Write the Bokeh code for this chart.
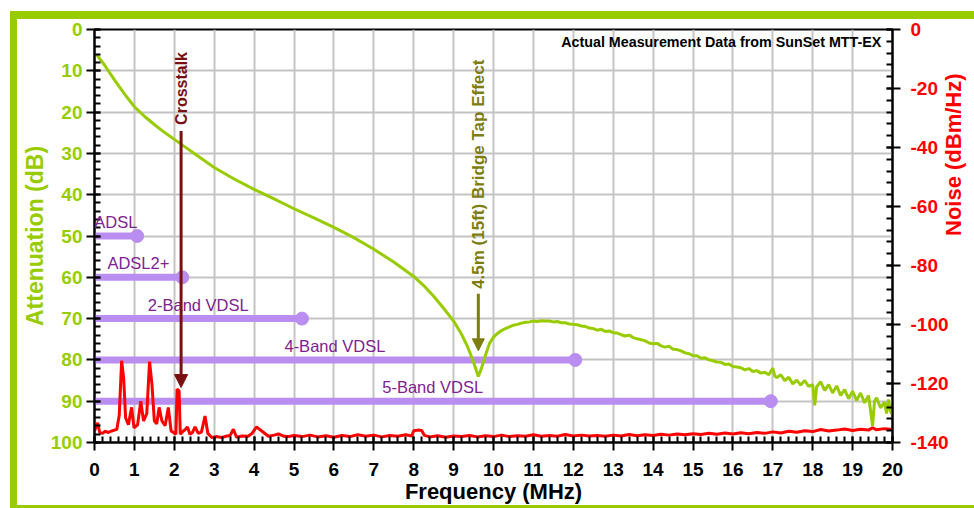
import math
from bokeh.plotting import figure
from bokeh.models import (Range1d, LinearAxis, SingleIntervalTicker, Label, Arrow,
                          NormalHead, PrintfTickFormatter)
from bokeh.embed import file_html
from bokeh.resources import INLINE

# ---------------- data ----------------
freq_att = [0.05, 0.25, 0.5, 0.75, 1.0, 1.25, 1.5, 1.75, 2.0, 2.25, 2.5, 2.75, 3.0, 3.5, 4.0,
            4.5, 5.0, 5.5, 6.0, 6.5, 7.0, 7.5, 8.0, 8.25, 8.5, 8.75, 9.0, 9.2, 9.35, 9.5,
            9.62, 9.7, 9.8, 9.9, 10.0, 10.1, 10.2, 10.3, 10.4, 10.5, 10.6, 10.7, 10.8, 10.9,
            11.0, 11.1, 11.2, 11.3, 11.4, 11.5, 11.6, 11.7, 11.8, 11.9, 12.0, 12.1, 12.2,
            12.3, 12.4, 12.5, 12.6, 12.7, 12.8, 12.9, 13.0, 13.1, 13.2, 13.3, 13.4, 13.5,
            13.6, 13.7, 13.8, 13.9, 14.0, 14.1, 14.2, 14.3, 14.4, 14.5, 14.6, 14.7, 14.8,
            14.9, 15.0, 15.1, 15.2, 15.3, 15.4, 15.5, 15.6, 15.7, 15.8, 15.9, 16.0, 16.1,
            16.2, 16.3, 16.4, 16.5, 16.6, 16.7, 16.8, 16.9, 17.0, 17.05, 17.1, 17.2, 17.3,
            17.4, 17.5, 17.6, 17.7, 17.8, 17.9, 18.0, 18.05, 18.1, 18.2, 18.3, 18.4, 18.5,
            18.6, 18.7, 18.8, 18.9, 19.0, 19.1, 19.2, 19.3, 19.4, 19.5, 19.55, 19.6, 19.7,
            19.8, 19.85, 19.9, 19.95, 20.0]
att_db = [6.0, 8.6, 12.2, 15.6, 18.7, 21.0, 23.0, 24.9, 26.6, 28.3, 30.0, 31.7, 33.4, 36.2, 38.7,
          41.0, 43.4, 45.6, 47.9, 50.4, 53.2, 56.3, 59.8, 62.0, 64.6, 67.5, 70.6, 73.8, 76.8, 80.5,
          84.0, 82.0, 78.8, 76.0, 74.5, 73.6, 72.9, 72.4, 72.0, 71.6, 71.4, 71.1, 70.9, 70.8,
          70.6, 70.7, 70.5, 70.6, 70.6, 70.8, 70.7, 71.0, 71.0, 71.3, 71.4, 71.5, 71.8,
          71.9, 72.3, 72.4, 72.8, 72.6, 73.1, 73.0, 73.4, 73.5, 73.9, 74.2, 74.0, 74.6,
          74.9, 75.1, 75.4, 75.9, 76.1, 76.0, 76.6, 76.9, 76.7, 77.4, 77.5, 77.8, 78.3,
          78.5, 79.0, 79.0, 79.6, 79.5, 80.0, 80.2, 80.5, 80.6, 81.1, 81.0, 81.6, 81.7,
          81.9, 82.4, 82.1, 82.8, 82.6, 83.2, 83.0, 83.6, 82.0, 83.9, 84.3, 83.6, 85.0,
          84.2, 85.8, 84.9, 86.1, 85.0, 86.4, 86.0, 91.0, 86.5, 85.3, 87.4, 86.0, 88.0,
          86.3, 88.6, 87.2, 89.4, 87.6, 89.8, 88.0, 90.4, 88.6, 96.0, 90.0, 89.2, 91.6,
          90.2, 93.0, 89.6, 92.5, 93.2]

freq_noise = [0.0, 0.08, 0.13, 0.2, 0.27, 0.35, 0.43, 0.5, 0.56, 0.62, 0.68, 0.73, 0.78, 0.85,
              0.93, 0.99, 1.08, 1.16, 1.23, 1.31, 1.38, 1.44, 1.5, 1.56, 1.62, 1.69, 1.77, 1.85,
              1.92, 1.98, 2.04, 2.07, 2.12, 2.15, 2.22, 2.27, 2.33, 2.39, 2.46, 2.52, 2.6, 2.68,
              2.77, 2.84, 2.94, 3.05, 3.19, 3.3, 3.4, 3.48, 3.56, 3.7, 3.85, 3.95, 4.06, 4.19,
              4.36, 4.5, 4.61, 4.75, 4.86, 5.0, 5.2, 5.4, 5.6, 5.8, 6.0, 6.2, 6.4, 6.6, 6.8,
              7.0, 7.2, 7.4, 7.6, 7.8, 7.95, 8.0, 8.1, 8.2, 8.27, 8.4, 8.6, 8.8, 9.0, 9.2, 9.4,
              9.6, 9.8, 10.0, 10.2, 10.4, 10.6, 10.8, 11.0, 11.2, 11.4, 11.6, 11.8, 12.0, 12.2,
              12.4, 12.6, 12.8, 13.0, 13.2, 13.4, 13.6, 13.8, 14.0, 14.2, 14.4, 14.6, 14.8,
              15.0, 15.2, 15.4, 15.6, 15.8, 16.0, 16.2, 16.4, 16.6, 16.8, 17.0, 17.2, 17.4,
              17.6, 17.8, 18.0, 18.2, 18.4, 18.6, 18.8, 19.0, 19.2, 19.4, 19.5, 19.6, 19.8, 20.0]
noise_dbm = [-136.1, -133.3, -136.6, -136.9, -136.2, -136.6, -136.1, -135.8, -135.5, -130.8,
             -112.3, -118.0, -131.7, -134.0, -128.1, -135.0, -134.0, -126.0, -132.7, -130.2,
             -112.6, -120.3, -132.7, -133.7, -128.1, -132.7, -134.3, -128.1, -136.1, -136.6,
             -137.2, -121.9, -122.5, -137.2, -136.2, -135.7, -134.7, -137.2, -136.5, -134.7,
             -136.9, -136.5, -131.0, -136.9, -138.3, -138.0, -138.3, -137.9, -137.6, -135.5,
             -138.2, -137.8, -137.9, -136.9, -134.7, -136.1, -137.9, -137.5, -137.1, -137.9,
             -138.0, -137.6, -138.0, -137.5, -138.1, -137.7, -138.2, -137.6, -138.0, -137.4,
             -137.9, -137.5, -138.1, -137.6, -137.9, -137.4, -137.8, -136.0, -135.8, -135.9,
             -137.6, -138.1, -137.7, -138.2, -137.8, -138.0, -137.6, -138.1, -137.7, -138.0,
             -137.5, -138.0, -137.7, -137.9, -137.4, -137.9, -137.6, -137.9, -137.3, -137.8,
             -137.5, -137.8, -137.6, -137.9, -137.5, -137.8, -137.3, -137.7, -137.4, -137.6,
             -137.2, -137.5, -137.1, -137.4, -137.0, -137.3, -136.9, -137.2, -136.8, -137.1,
             -136.7, -137.0, -136.6, -136.9, -136.4, -136.8, -136.2, -136.5, -136.0, -136.3,
             -135.6, -136.1, -135.8, -135.4, -135.9, -135.5, -135.8, -135.0, -135.7, -135.3,
             -135.6]

band_names = ["ADSL", "ADSL2+", "2-Band VDSL", "4-Band VDSL", "5-Band VDSL"]
band_levels = [50, 60, 70, 80, 90]
band_ends = [1.07, 2.2, 5.2, 12.05, 16.95]

crosstalk_freq = 2.17
bridge_tap_freq = 9.62

# ---------------- styles ----------------
GREEN = "#99cc00"
RED = "#ff0000"
LAVENDER = "#b98ef0"
PURPLE = "#7e2290"
MAROON = "#7a0f12"
OLIVE = "#7d7d12"
FONT = "Liberation Sans"

frame_css = {
    "border-top": "8px solid #99cc00",
    "border-left": "7px solid #99cc00",
    "border-bottom": "3px solid #99cc00",
}

p = figure(width=964, height=497, x_range=Range1d(0, 20), y_range=Range1d(100, 0),
           output_backend="svg", toolbar_location=None,
           min_border_left=77, min_border_right=88, min_border_top=10, min_border_bottom=74,
           background_fill_color="white", border_fill_color="white",
           margin=(11, 0, 0, 10), styles=frame_css)
p.extra_y_ranges = {"noise": Range1d(-140, 0)}
p.outline_line_color = "black"
p.outline_line_width = 2

# grids
p.xgrid.ticker = SingleIntervalTicker(interval=1)
p.ygrid.ticker = SingleIntervalTicker(interval=10)
for g in (p.xgrid, p.ygrid):
    g.grid_line_color = "#c4c4c4"
    g.grid_line_width = 2

def style_axis(ax, color, label_color):
    ax.axis_line_color = "black"
    ax.axis_line_width = 2
    ax.major_tick_line_color = "black"
    ax.major_tick_line_width = 2
    ax.minor_tick_line_color = "black"
    ax.minor_tick_line_width = 2
    ax.major_tick_in = 6
    ax.major_tick_out = 8
    ax.minor_tick_in = 6
    ax.minor_tick_out = 0
    ax.major_label_text_font = FONT
    ax.major_label_text_font_style = "bold"
    ax.major_label_text_font_size = "19px"
    ax.major_label_text_color = color
    ax.axis_label_text_font = FONT
    ax.axis_label_text_font_style = "bold"
    ax.axis_label_text_font_size = "23px"
    ax.axis_label_text_color = label_color

xax = p.xaxis[0]
xax.ticker = SingleIntervalTicker(interval=1, num_minor_ticks=5)
xax.axis_label = "Frequency (MHz)"
style_axis(xax, "black", "black")
xax.major_label_standoff = 12
xax.axis_label_standoff = 0
xax.axis_label_text_font_size = "22px"

yax = p.yaxis[0]
yax.ticker = SingleIntervalTicker(interval=10, num_minor_ticks=5)
yax.axis_label = "Attenuation (dB)"
style_axis(yax, GREEN, GREEN)
yax.major_label_standoff = 4
yax.axis_label_standoff = 0

rax = LinearAxis(y_range_name="noise", axis_label="Noise (dBm/Hz)",
                 ticker=SingleIntervalTicker(interval=20, num_minor_ticks=5),
                 formatter=PrintfTickFormatter(format="%d"))
style_axis(rax, RED, RED)
rax.major_label_standoff = 10
rax.axis_label_standoff = 2
rax.axis_label_text_font_size = "22px"
rax.axis_label_orientation = math.pi / 2
p.add_layout(rax, "right")

# bands
p.segment(x0=[0] * len(band_ends), y0=band_levels, x1=band_ends, y1=band_levels,
          line_color=LAVENDER, line_width=7)
p.scatter(x=band_ends, y=band_levels, size=13, marker="circle",
          fill_color=LAVENDER, line_color=LAVENDER)
for name, lvl, end in zip(band_names, band_levels, band_ends):
    p.add_layout(Label(x=end / 2, y=lvl - 3.4, text=name, text_align="center",
                       text_baseline="middle", text_font=FONT, text_font_size="16.5px",
                       text_color=PURPLE))

# curves
p.line(freq_noise, noise_dbm, y_range_name="noise", line_color=RED, line_width=3)
p.line(freq_att, att_db, line_color=GREEN, line_width=3)

# crosstalk annotation
p.add_layout(Arrow(x_start=crosstalk_freq, y_start=24.6, x_end=crosstalk_freq, y_end=86.7,
                   line_color=MAROON, line_width=3,
                   end=NormalHead(size=13, fill_color=MAROON, line_color=MAROON)))
p.add_layout(Label(x=crosstalk_freq, y=23.1, text="Crosstalk", angle=math.pi / 2,
                   text_align="left", text_baseline="middle", text_font=FONT,
                   text_font_style="bold", text_font_size="16px", text_color=MAROON))

# bridge tap annotation
p.add_layout(Arrow(x_start=bridge_tap_freq, y_start=64.0, x_end=bridge_tap_freq, y_end=77.8,
                   line_color=OLIVE, line_width=3,
                   end=NormalHead(size=12, fill_color=OLIVE, line_color=OLIVE)))
p.add_layout(Label(x=bridge_tap_freq, y=62.8, text="4.5m (15ft) Bridge Tap Effect",
                   angle=math.pi / 2, text_align="left", text_baseline="middle",
                   text_font=FONT, text_font_style="bold", text_font_size="17px",
                   text_color=OLIVE))

# source note
p.add_layout(Label(x=19.72, y=3.0, text="Actual Measurement Data from SunSet MTT-EX",
                   text_align="right", text_baseline="middle", text_font=FONT,
                   text_font_style="bold", text_font_size="14.3px", text_color="black"))

open("out.html", "w").write(file_html(p, INLINE))
